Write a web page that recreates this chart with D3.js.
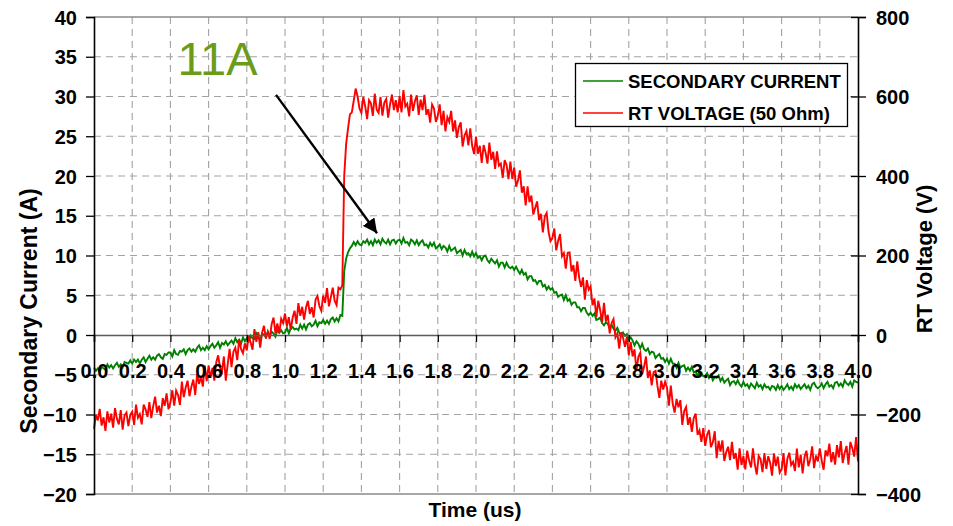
<!DOCTYPE html>
<html>
<head>
<meta charset="utf-8">
<script src="https://cdn.jsdelivr.net/npm/d3@7"></script>
<style>
  html, body { margin: 0; padding: 0; background: #fff; }
  svg { display: block; font-family: "Liberation Sans", Arial, Helvetica, sans-serif; }
</style>
</head>
<body>
<svg id="chart" width="953" height="526"></svg>
<script>
// Oscilloscope capture: secondary current (A, left axis) and RT voltage (V, right axis)
// sampled every 10 ns from 0 to 4 us. Each line below holds 0.2 us of samples.
const sampleStep = 0.01; // us

const currentA = [
  -4.1,-4.5,-4.2,-4.6,-4.0,-4.2,-4.4,-3.7,-4.1,-3.8,-4.2,-3.8,-3.5,-4.0,-3.7,-4.1,-3.4,-3.5,-3.6,-3.2,
  -3.6,-3.1,-3.4,-3.1,-3.6,-3.1,-2.8,-3.4,-3.0,-2.6,-3.1,-2.8,-3.1,-2.6,-2.4,-2.8,-3.0,-2.4,-2.5,-2.2,
  -2.2,-2.7,-1.9,-2.4,-2.5,-2.0,-2.1,-1.8,-2.4,-1.9,-1.7,-2.1,-1.8,-2.1,-1.6,-1.3,-1.9,-1.6,-1.9,-1.4,
  -1.8,-1.4,-1.1,-1.6,-1.3,-0.9,-1.6,-1.0,-1.2,-0.8,-1.3,-1.0,-0.7,-1.1,-0.4,-0.9,-0.6,-1.1,-0.3,-0.8,
  -0.4,-0.8,-0.1,-0.4,-0.5,0.2,-0.3,-0.6,0.1,0.1,-0.3,0.4,-0.1,0.4,0.2,-0.2,0.6,0.3,0.6,0.2,
  0.3,0.9,0.2,0.8,1.0,0.7,0.8,0.6,1.3,0.8,1.3,0.7,1.3,1.5,1.1,1.3,1.8,1.1,1.6,1.5,
  1.9,1.4,1.8,1.4,2.0,2.2,1.7,2.1,1.7,2.5,2.4,8.0,9.6,10.4,10.9,11.2,11.7,11.3,11.8,11.4,
  11.3,11.8,11.6,12.0,11.4,11.8,11.3,12.0,11.6,11.9,11.4,12.1,11.7,11.5,12.0,11.4,11.9,12.0,11.5,11.9,
  12.0,11.5,12.2,11.6,11.7,11.3,12.0,11.8,11.4,11.9,11.3,11.7,11.9,11.3,11.4,11.0,11.6,11.2,11.6,10.9,
  11.1,11.4,10.8,11.2,11.0,10.5,11.2,10.6,10.8,11.0,10.3,10.5,10.7,10.0,10.7,10.2,10.3,9.9,10.5,9.9,
  10.3,9.7,9.9,9.4,9.9,10.0,9.4,9.1,9.6,9.3,9.0,9.4,8.6,9.1,9.1,8.5,9.1,8.6,8.4,8.6,
  8.2,8.6,8.1,7.7,8.2,7.6,7.8,7.0,7.4,7.4,6.8,6.9,6.4,6.8,6.8,6.1,6.3,5.7,6.1,5.7,
  5.9,5.3,5.4,4.8,5.0,5.1,4.4,5.0,4.3,4.5,3.8,4.1,4.1,3.5,3.5,3.0,3.4,3.4,2.8,2.5,
  2.8,2.4,2.7,1.9,2.0,2.2,1.5,1.2,1.6,1.4,0.8,1.3,0.8,0.5,0.9,0.3,-0.1,0.3,-0.1,0.1,
  -0.6,-0.3,-0.7,-1.3,-0.8,-1.1,-1.7,-1.1,-1.8,-2.0,-1.7,-2.4,-2.1,-2.2,-2.9,-2.6,-2.4,-3.0,-2.9,-3.4,
  -3.0,-3.6,-3.0,-3.6,-3.6,-4.1,-3.5,-4.1,-3.9,-3.8,-4.5,-4.1,-4.5,-4.0,-4.7,-4.6,-5.1,-4.6,-4.7,-5.2,
  -5.1,-4.8,-5.4,-5.0,-5.7,-5.3,-5.4,-5.1,-5.8,-5.4,-6.0,-5.7,-5.5,-6.3,-5.9,-5.8,-6.2,-5.7,-6.2,-6.5,
  -5.9,-6.4,-6.2,-6.7,-6.1,-6.4,-6.7,-6.0,-6.5,-6.3,-6.8,-6.2,-6.6,-6.5,-6.9,-6.4,-6.5,-6.9,-6.3,-6.8,
  -6.4,-6.9,-6.6,-6.2,-6.8,-6.5,-6.9,-6.2,-6.6,-6.3,-6.8,-6.5,-6.2,-6.7,-6.4,-6.9,-6.2,-6.0,-6.5,-6.7,
  -6.5,-6.1,-6.7,-6.2,-5.9,-6.5,-6.3,-6.7,-6.0,-5.9,-6.4,-6.1,-6.5,-5.7,-6.1,-6.3,-5.9,-6.5,-5.7,-5.9,
  -6.0
];

const voltageV = [
  -236,-201,-215,-186,-228,-207,-241,-192,-220,-198,-233,-184,-211,-225,-189,-238,-202,-195,-229,-201,
  -193,-226,-175,-208,-199,-225,-175,-187,-206,-169,-209,-179,-155,-195,-178,-204,-159,-178,-147,-187,
  -170,-139,-178,-140,-151,-176,-117,-156,-132,-115,-154,-130,-112,-151,-98,-123,-105,-130,-77,-116,
  -77,-108,-83,-115,-69,-51,-82,-92,-54,-115,-74,-35,-81,-42,-32,-63,-11,-35,-46,-21,
  -39,-1,-19,-37,15,-17,7,-32,6,23,-9,8,-10,27,44,5,29,4,41,30,
  54,22,45,13,44,61,28,80,48,71,39,69,86,53,70,44,89,98,73,61,
  99,81,118,72,95,119,86,75,119,115,125,400,480,520,555,560,590,620,600,570,
  559,599,575,543,591,583,551,607,567,559,599,552,585,594,547,580,605,566,591,560,
  601,560,616,575,582,550,605,564,588,603,554,592,566,604,554,568,534,580,570,536,
  552,580,528,564,512,548,536,564,512,540,496,523,535,474,502,513,477,520,476,455,
  499,456,476,433,478,459,431,484,441,461,418,462,426,431,395,440,428,392,436,393,
  421,373,389,414,358,374,326,374,334,351,303,320,336,289,305,258,298,307,259,236,
  244,268,213,237,254,198,206,167,207,208,160,176,136,185,145,121,145,89,138,114,
  122,75,92,45,86,63,32,81,34,51,4,30,40,-6,4,-34,7,-7,-30,-4,
  -51,-17,-54,-36,-90,-55,-45,-99,-80,-54,-108,-89,-127,-93,-90,-128,-158,-115,-137,-118,
  -132,-178,-127,-173,-195,-161,-182,-164,-226,-191,-181,-226,-207,-244,-209,-198,-251,-240,-269,-234,
  -279,-251,-239,-282,-270,-242,-310,-266,-293,-265,-317,-295,-281,-315,-269,-311,-297,-339,-285,-327,
  -305,-338,-291,-316,-333,-285,-326,-351,-304,-312,-345,-297,-337,-305,-321,-354,-298,-330,-306,-346,
  -338,-297,-353,-312,-296,-327,-319,-342,-286,-333,-301,-348,-307,-291,-330,-313,-280,-335,-303,-318,
  -285,-316,-339,-290,-305,-273,-320,-295,-326,-277,-308,-267,-322,-297,-279,-326,-269,-284,-306,-257,
  -318
];

const timeTicks = [0.0,0.2,0.4,0.6,0.8,1.0,1.2,1.4,1.6,1.8,2.0,2.2,2.4,2.6,2.8,3.0,3.2,3.4,3.6,3.8,4.0];
const currentTicks = [-20,-15,-10,-5,0,5,10,15,20,25,30,35,40];
const voltageTicks = [-400,-200,0,200,400,600,800];

const seriesNames = ["SECONDARY CURRENT", "RT VOLTAGE (50 Ohm)"];
const seriesColors = ["#008000", "#ff0000"];

// Callout: text anchor and arrow from/to, in data units (us, A)
const calloutText = "11A";
const calloutAt = [0.437, 32.7];
const arrowFrom = [0.953, 30.2];
const arrowTo = [1.482, 12.8];

// ---- layout ----
const W = 953, H = 526;
const plot = { left: 94, right: 858, top: 17, bottom: 494 };

const svg = d3.select("#chart");
svg.append("rect").attr("width", W).attr("height", H).attr("fill", "#fff");

const x = d3.scaleLinear().domain([0, 4]).range([plot.left, plot.right]);
const yI = d3.scaleLinear().domain([-20, 40]).range([plot.bottom, plot.top]);
const yV = d3.scaleLinear().domain([-400, 800]).range([plot.bottom, plot.top]);

// ---- dashed grid ----
const grid = svg.append("g").attr("stroke", "#a3a3a3").attr("stroke-width", 1.1)
  .attr("stroke-dasharray", "7,5").attr("fill", "none");
grid.selectAll("line.v").data(timeTicks.slice(1, -1)).join("line")
  .attr("x1", d => x(d)).attr("x2", d => x(d))
  .attr("y1", plot.top).attr("y2", plot.bottom);
grid.selectAll("line.h").data(currentTicks.filter(d => d !== 0 && d !== -20 && d !== 40)).join("line")
  .attr("x1", plot.left).attr("x2", plot.right)
  .attr("y1", d => yI(d)).attr("y2", d => yI(d));

// plot frame top/bottom (solid grey)
svg.append("line").attr("x1", plot.left).attr("x2", plot.right)
  .attr("y1", yI(40)).attr("y2", yI(40)).attr("stroke", "#8a8a8a").attr("stroke-width", 1.5);
svg.append("line").attr("x1", plot.left).attr("x2", plot.right)
  .attr("y1", yI(-20)).attr("y2", yI(-20)).attr("stroke", "#8a8a8a").attr("stroke-width", 1.5);

// ---- traces ----
const lineI = d3.line().x((d, i) => x(i * sampleStep)).y(d => yI(d));
const lineV = d3.line().x((d, i) => x(i * sampleStep)).y(d => yV(d));

svg.append("path").datum(currentA).attr("d", lineI)
  .attr("fill", "none").attr("stroke", seriesColors[0]).attr("stroke-width", 1.9)
  .attr("stroke-linejoin", "miter");
svg.append("path").datum(voltageV).attr("d", lineV)
  .attr("fill", "none").attr("stroke", seriesColors[1]).attr("stroke-width", 1.9)
  .attr("stroke-linejoin", "miter");

// ---- time axis drawn through zero current ----
const xAxis = d3.axisBottom(x).tickValues(timeTicks).tickSize(7).tickFormat(d3.format(".1f"));
const gx = svg.append("g").attr("transform", `translate(0,${yI(0)})`).call(xAxis);
gx.select(".domain").attr("stroke", "#5a5a5a").attr("stroke-width", 1.6);
gx.selectAll(".tick line").attr("stroke", "#000").attr("stroke-width", 1.3);
gx.selectAll(".tick text").attr("y", 43).attr("dy", 0)
  .attr("font-size", 20).attr("font-weight", "bold").attr("fill", "#000")
  .attr("font-family", "'Liberation Sans', Arial, sans-serif");

// ---- left axis (current) ----
const yAxisL = d3.axisLeft(yI).tickValues(currentTicks).tickSize(8).tickPadding(9);
const gl = svg.append("g").attr("transform", `translate(${plot.left},0)`).call(yAxisL);
gl.select(".domain").attr("stroke", "#000").attr("stroke-width", 1.6);
gl.selectAll(".tick line").attr("stroke", "#000").attr("stroke-width", 1.3);
gl.selectAll(".tick text").attr("dy", "0.36em")
  .attr("font-size", 20).attr("font-weight", "bold").attr("fill", "#000")
  .attr("font-family", "'Liberation Sans', Arial, sans-serif");

// ---- right axis (voltage), ticks cross the axis line ----
const yAxisR = d3.axisRight(yV).tickValues(voltageTicks).tickSize(8).tickPadding(10);
const gr = svg.append("g").attr("transform", `translate(${plot.right},0)`).call(yAxisR);
gr.select(".domain").attr("stroke", "#000").attr("stroke-width", 1.6);
gr.selectAll(".tick line").attr("x1", -7).attr("stroke", "#000").attr("stroke-width", 1.3);
gr.selectAll(".tick text").attr("dy", "0.36em")
  .attr("font-size", 20).attr("font-weight", "bold").attr("fill", "#000")
  .attr("font-family", "'Liberation Sans', Arial, sans-serif");

// ---- axis titles ----
svg.append("text").attr("transform", "translate(37,311) rotate(-90)")
  .attr("text-anchor", "middle").attr("font-size", 23).attr("font-weight", "bold")
  .text("Secondary Current (A)");
svg.append("text").attr("transform", "translate(932,259) rotate(-90)")
  .attr("text-anchor", "middle").attr("font-size", 22).attr("font-weight", "bold")
  .text("RT Voltage (V)");
svg.append("text").attr("x", 475).attr("y", 517)
  .attr("text-anchor", "middle").attr("font-size", 21).attr("font-weight", "bold")
  .text("Time (us)");

// ---- legend ----
const lg = svg.append("g");
lg.append("rect").attr("x", 575.5).attr("y", 63.5).attr("width", 272).attr("height", 63)
  .attr("fill", "#fff").attr("stroke", "#000").attr("stroke-width", 1.3);
const rowsY = [81, 113];
seriesNames.forEach((name, i) => {
  lg.append("line").attr("x1", 583).attr("x2", 623).attr("y1", rowsY[i]).attr("y2", rowsY[i])
    .attr("stroke", seriesColors[i]).attr("stroke-width", 1.4);
  lg.append("text").attr("x", 628).attr("y", rowsY[i] + 6.5)
    .attr("font-size", 18.5).attr("font-weight", "bold").text(name);
});

// ---- callout ----
svg.append("text").attr("x", x(calloutAt[0])).attr("y", yI(calloutAt[1]))
  .attr("font-size", 47).attr("fill", "#6a9c1a").text(calloutText);

const defs = svg.append("defs");
defs.append("marker").attr("id", "head").attr("viewBox", "0 0 10 10")
  .attr("refX", 10).attr("refY", 5).attr("markerWidth", 6).attr("markerHeight", 6)
  .attr("markerUnits", "strokeWidth").attr("orient", "auto")
  .append("path").attr("d", "M0,0 L10,5 L0,10 z").attr("fill", "#000");
svg.append("line")
  .attr("x1", x(arrowFrom[0])).attr("y1", yI(arrowFrom[1]))
  .attr("x2", x(arrowTo[0])).attr("y2", yI(arrowTo[1]))
  .attr("stroke", "#000").attr("stroke-width", 2.4).attr("marker-end", "url(#head)");
</script>
</body>
</html>
